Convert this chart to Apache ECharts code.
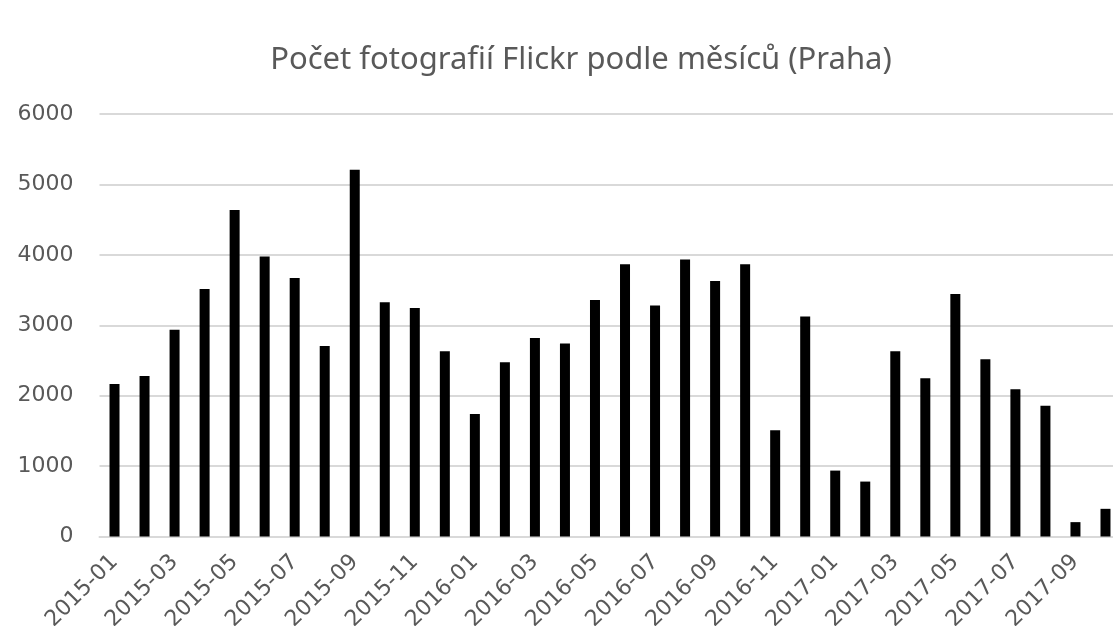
<!DOCTYPE html>
<html>
<head>
<meta charset="utf-8">
<script src="https://cdn.jsdelivr.net/npm/echarts@6/dist/echarts.min.js"></script>
<style>
  html, body { margin: 0; padding: 0; background: #fff; }
  #main { width: 1113px; height: 626px; }
</style>
</head>
<body>
<div id="main"></div>
<script>
// months 2015-01 .. 2017-10
const months = [
  '2015-01', '2015-02', '2015-03', '2015-04', '2015-05', '2015-06',
  '2015-07', '2015-08', '2015-09', '2015-10', '2015-11', '2015-12',
  '2016-01', '2016-02', '2016-03', '2016-04', '2016-05', '2016-06',
  '2016-07', '2016-08', '2016-09', '2016-10', '2016-11', '2016-12',
  '2017-01', '2017-02', '2017-03', '2017-04', '2017-05', '2017-06',
  '2017-07', '2017-08', '2017-09', '2017-10'
];

// photo counts
const photoCounts = [
  2165, 2280, 2935, 3515, 4635, 3975, 3670, 2705, 5210, 3325, 3245, 2630,
  1740, 2475, 2820, 2740, 3360, 3865, 3280, 3935, 3630, 3865, 1510, 3125,
  936, 780, 2630, 2247, 3443, 2516, 2091, 1858, 204, 393
];

const yTicks = [0, 1000, 2000, 3000, 4000, 5000, 6000];

const textColor = '#595959';
const gridColor = '#d9d9d9';

var myChart = echarts.init(document.getElementById('main'));
myChart.setOption({
  animation: false,
  title: {
    text: 'Počet fotografií Flickr podle měsíců (Praha)',
    left: 576,
    textAlign: 'center',
    top: 40,
    textStyle: {
      color: textColor,
      fontFamily: 'Noto Sans',
      fontWeight: 'normal',
      fontSize: 31
    }
  },
  grid: {
    left: 99.5,
    right: -7.5,
    top: 114,
    bottom: 89.5,
    containLabel: false,
    outerBoundsMode: 'none'
  },
  xAxis: {
    type: 'category',
    data: months,
    axisLine: { show: true, lineStyle: { color: gridColor, width: 2 } },
    axisTick: { show: false },
    axisLabel: {
      interval: 1,
      rotate: 45,
      color: textColor,
      fontFamily: 'DejaVu Sans',
      fontSize: 22,
      margin: 22
    }
  },
  yAxis: {
    type: 'value',
    min: yTicks[0],
    max: yTicks[yTicks.length - 1],
    interval: 1000,
    axisLine: { show: false },
    axisTick: { show: false },
    splitLine: { lineStyle: { color: gridColor, width: 2 } },
    axisLabel: {
      color: textColor,
      fontFamily: 'DejaVu Sans',
      fontSize: 22,
      margin: 26,
      formatter: (v) => String(v)
    }
  },
  series: [
    {
      type: 'bar',
      name: 'Počet fotografií',
      data: photoCounts,
      barWidth: 10,
      itemStyle: { color: '#000000' }
    }
  ]
});
</script>
</body>
</html>
